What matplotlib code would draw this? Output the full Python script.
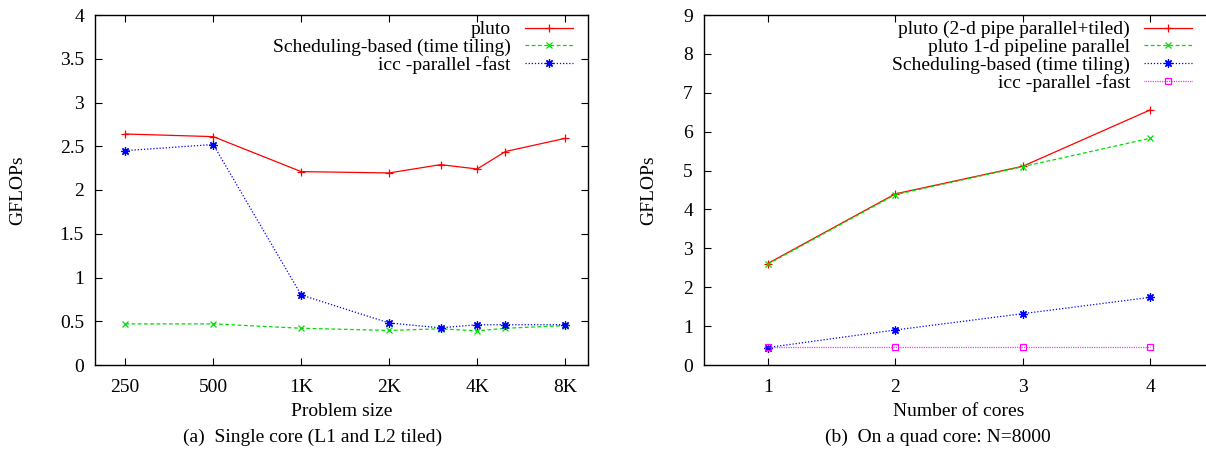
import matplotlib
matplotlib.use("Agg")
import matplotlib.pyplot as plt
from matplotlib.ticker import FixedLocator, NullLocator

plt.rcParams['font.family'] = ['Liberation Serif', 'DejaVu Serif']
plt.rcParams['font.size'] = 14

# ---- Data (a) single core ----
sizes = [250, 500, 1000, 2000, 3000, 4000, 5000, 8000]
size_ticks = [250, 500, 1000, 2000, 4000, 8000]
size_labels = ['250', '500', '1K', '2K', '4K', '8K']
a_pluto = [2.64, 2.61, 2.21, 2.195, 2.29, 2.24, 2.44, 2.59]
a_sched = [0.47, 0.47, 0.42, 0.395, 0.414, 0.39, 0.42, 0.45]
a_icc = [2.45, 2.52, 0.80, 0.48, 0.425, 0.46, 0.46, 0.46]

# ---- Data (b) quad core ----
cores = [1, 2, 3, 4]
b_pluto2d = [2.61, 4.40, 5.11, 6.56]
b_pluto1d = [2.59, 4.38, 5.10, 5.83]
b_sched = [0.45, 0.90, 1.32, 1.74]
b_icc = [0.47, 0.47, 0.47, 0.47]

W, H = 1206, 453
fig = plt.figure(figsize=(W / 100, H / 100), dpi=100)

ax1 = fig.add_axes([95 / W, 1 - 365 / H, (588 - 95) / W, 350 / H])
ax2 = fig.add_axes([704 / W, 1 - 365 / H, (1214 - 704) / W, 350 / H])

RED = '#ff0000'
GREEN = '#00dd00'
BLUE = '#0000ff'
MAG = '#ff00ff'
ast = (8, 2, 0)

lw = 0.9
ax1.plot(sizes, a_pluto, color=RED, lw=lw, ls='-', marker='+', ms=6, mew=0.9,
         label='pluto')
ax1.plot(sizes, a_sched, color=GREEN, lw=lw, ls=(0, (3, 2)), marker='x', ms=5, mew=0.9,
         label='Scheduling-based (time tiling)')
ax1.plot(sizes, a_icc, color=BLUE, lw=lw, ls=(0, (1, 1.5)), marker=ast, ms=6, mew=0.9,
         label='icc -parallel -fast')

ax1.set_xscale('log', base=2)
ax1.set_xlim(197, 9580)
ax1.xaxis.set_major_locator(FixedLocator(size_ticks))
ax1.xaxis.set_minor_locator(NullLocator())
ax1.set_xticklabels(size_labels)
ax1.set_ylim(0, 4)
ax1.set_yticks([0, 0.5, 1, 1.5, 2, 2.5, 3, 3.5, 4])
ax1.set_yticklabels(['0', '0.5', '1', '1.5', '2', '2.5', '3', '3.5', '4'])
ax1.set_xlabel('Problem size')
ax1.set_ylabel('GFLOPs')

ax2.plot(cores, b_pluto2d, color=RED, lw=lw, ls='-', marker='+', ms=6, mew=0.9,
         label='pluto (2-d pipe parallel+tiled)')
ax2.plot(cores, b_pluto1d, color=GREEN, lw=lw, ls=(0, (3, 2)), marker='x', ms=5, mew=0.9,
         label='pluto 1-d pipeline parallel')
ax2.plot(cores, b_sched, color=BLUE, lw=lw, ls=(0, (1, 1.5)), marker=ast, ms=6, mew=0.9,
         label='Scheduling-based (time tiling)')
ax2.plot(cores, b_icc, color=MAG, lw=lw, ls=(0, (0.6, 0.8)), marker='s', ms=5, mew=0.9,
         mfc='none', label='icc -parallel -fast')
ax2.set_xlim(0.5, 4.5)
ax2.set_xticks(cores)
ax2.set_ylim(0, 9)
ax2.set_yticks(range(0, 10))
ax2.set_xlabel('Number of cores')
ax2.set_ylabel('GFLOPs')

# label positions (pixels -> axes coords)
ax1.yaxis.set_label_coords((18 - 95) / 493, 0.5)
ax2.yaxis.set_label_coords((649 - 704) / 510, 0.5)
ax1.xaxis.set_label_coords(0.5, -(411 - 365) / 350)
ax2.xaxis.set_label_coords(0.5, -(411 - 365) / 350)
for ax in (ax1, ax2):
    ax.xaxis.label.set_va('center')
    ax.yaxis.label.set_va('center')

for ax in (ax1, ax2):
    ax.tick_params(direction='in', top=True, right=True, length=5, width=0.8,
                   labelsize=14)
    ax.tick_params(axis='x', pad=10)
    ax.tick_params(axis='y', pad=8)
    ax.tick_params(which='minor', length=0)
    for s in ax.spines.values():
        s.set_linewidth(1.0)

leg1 = ax1.legend(loc='upper right', frameon=False, markerfirst=False, fontsize=14,
                  handlelength=2.5, labelspacing=0.0, borderaxespad=0.2,
                  handletextpad=0.7, borderpad=0.2,
                  bbox_to_anchor=((581 - 95) / 493, 1.0 + 2 / 350))
leg1._legend_box.align = 'right'
leg2 = ax2.legend(loc='upper right', frameon=False, markerfirst=False, fontsize=14,
                  handlelength=2.5, labelspacing=0.0, borderaxespad=0.2,
                  handletextpad=0.7, borderpad=0.2,
                  bbox_to_anchor=((1200 - 704) / 510, 1.0 + 2 / 350))
leg2._legend_box.align = 'right'

fig.text(313 / W, 1 - 437 / H, '(a)  Single core (L1 and L2 tiled)', ha='center',
         va='center', fontsize=14)
fig.text(938 / W, 1 - 437 / H, '(b)  On a quad core: N=8000', ha='center',
         va='center', fontsize=14)

fig.savefig('out.png', dpi=100)
